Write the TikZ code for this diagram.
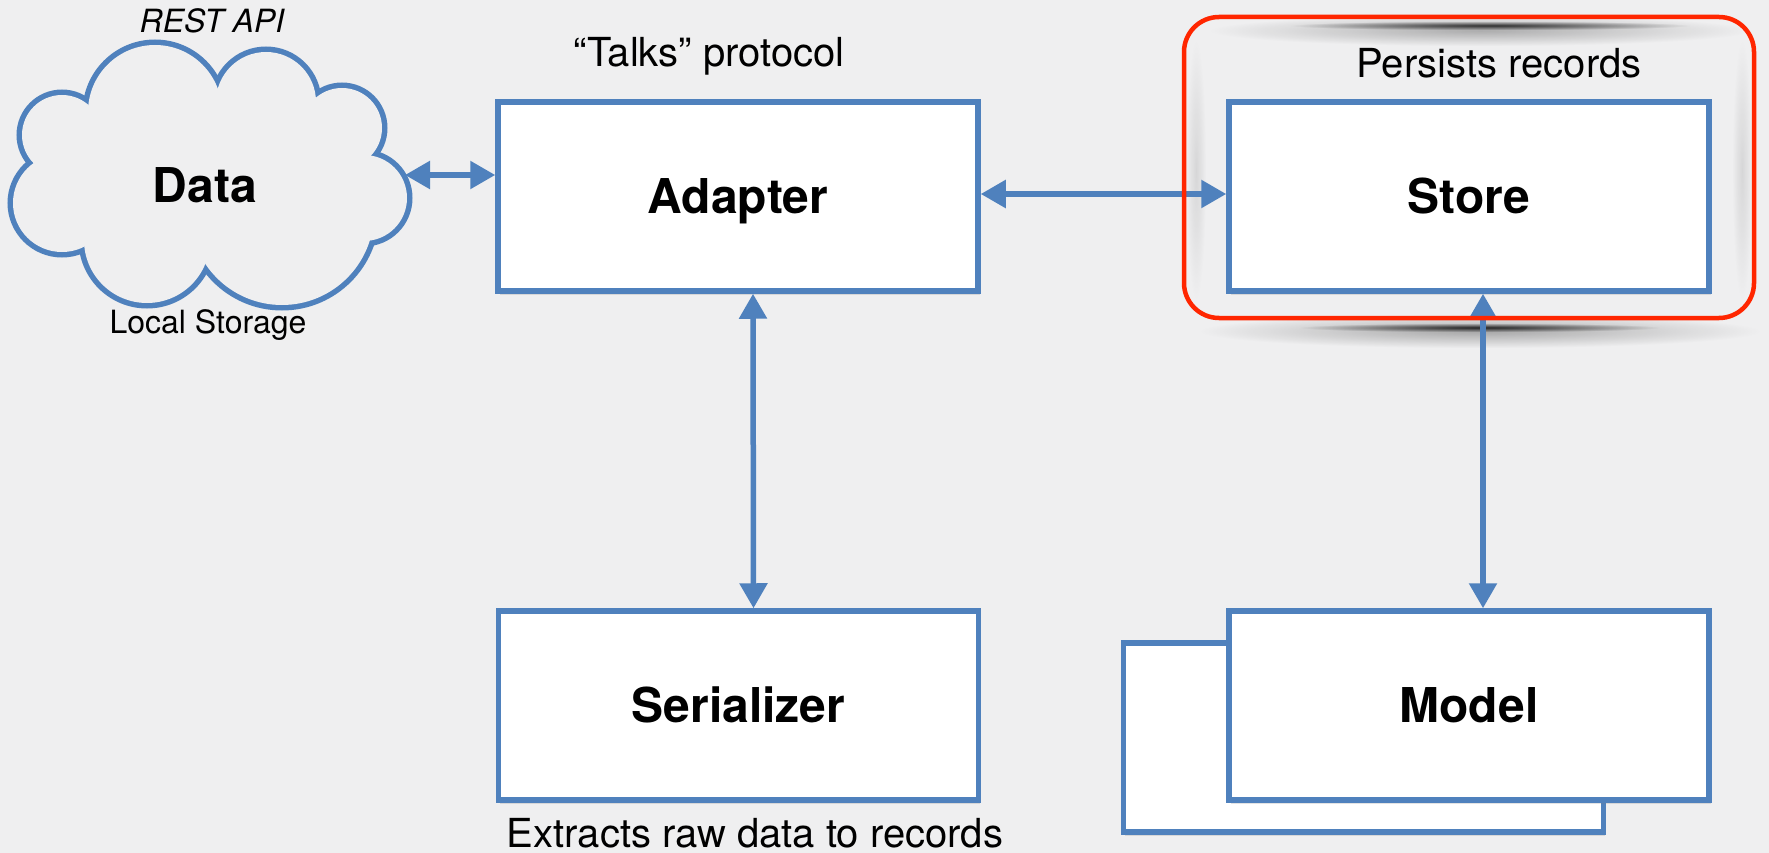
\documentclass[tikz,border=0pt]{standalone}
\usepackage{fontspec}
\setmainfont{TeX Gyre Heros}
\usetikzlibrary{arrows.meta,shadows,fadings}
\definecolor{bg}{RGB}{239,239,240}
\definecolor{boxblue}{RGB}{79,129,189}
\definecolor{hlred}{RGB}{255,38,0}
\tikzfading[name=smear, inner color=transparent!0, outer color=transparent!100]
\begin{document}
\begin{tikzpicture}[x=1pt,y=1pt,
  box/.style={draw=boxblue, line width=5.5pt, fill=white, minimum width=480pt, minimum height=189pt,
    inner sep=0pt, font=\fontsize{48}{50}\selectfont\bfseries, text height=34.5pt, text depth=0pt,
    drop shadow={opacity=0.22,shadow xshift=1.5pt,shadow yshift=-3.5pt}},
  link/.style={draw=boxblue, line width=5.5pt, {Triangle[length=25pt,width=27pt]}-{Triangle[length=25pt,width=27pt]}},
  note/.style={font=\fontsize{40}{42}\selectfont, anchor=base, inner sep=0pt},
  small/.style={font=\fontsize{32}{34}\selectfont, anchor=base, inner sep=0pt},
  puffline/.style={draw=boxblue, line width=11pt},
  pufffill/.style={fill=bg}]

\fill[bg] (0,0) rectangle (1769,-853);
\useasboundingbox (0,0) rectangle (1769,-853);

% cloud: union of puffs (outline drawn at double width, inside covered)
\foreach \cx/\cy/\r in {155/112/67, 266/102/50, 342/128/40, 364/198/43, 282/213/92, 147/240/63, 62/203/49, 62/135/40}
  \draw[puffline] (\cx,-\cy) circle[radius=\r];
\foreach \cx/\cy/\r in {155/112/67, 266/102/50, 342/128/40, 364/198/43, 282/213/92, 147/240/63, 62/203/49, 62/135/40}
  \fill[pufffill] (\cx,-\cy) circle[radius=\r];
\fill[pufffill] (155,-112) -- (266,-102) -- (342,-128) -- (364,-198) -- (282,-213) -- (147,-240) -- (62,-203) -- (62,-135) -- cycle;
\node[anchor=base, inner sep=0pt, font=\fontsize{48}{50}\selectfont\bfseries] (data) at (205,-203) {Data};
\node[small, font=\fontsize{32}{34}\selectfont\itshape] (rest) at (212,-33) {REST API};
\node[small] (local) at (208,-333) {Local Storage};
\coordinate (cloudE) at (405,-175);

% red highlight shadows
\fill[black, opacity=0.28, path fading=smear] (1210,-15) rectangle (1750,-46);
\fill[black, opacity=0.75, path fading=smear] (1290,-21) rectangle (1690,-30);
\fill[black, opacity=0.3, path fading=smear] (1200,-314) rectangle (1760,-348);
\fill[black, opacity=0.8, path fading=smear] (1300,-323) rectangle (1660,-332);
\fill[black, opacity=0.1, path fading=smear] (1186,-40) rectangle (1206,-300);
\fill[black, opacity=0.1, path fading=smear] (1732,-40) rectangle (1752,-300);

% boxes
\node[box] (adapter) at (738,-196.5) {Adapter};
\node[box] (store) at (1469,-196.5) {Store};
\node[box] (serializer) at (738.5,-705.5) {Serializer};
\node[box] (modelback) at (1363.5,-737.5) {};
\node[box] (model) at (1469,-705.5) {Model};

% labels
\node[note] (talks) at (709,-67) {“Talks” protocol};
\node[note] (persists) at (1499,-78) {Persists records};
\node[note] (extracts) at (755,-847) {Extracts raw data to records};

% connectors
\draw[link] (cloudE) -- (cloudE -| adapter.west);
\draw[link] ([yshift=2.5pt]adapter.east) -- ([yshift=2.5pt]store.west);
\draw[link] ([xshift=15pt]adapter.south) -- ([xshift=15pt]serializer.north);
\draw[link] ([xshift=14pt]store.south) -- ([xshift=14pt]model.north);

% red highlight
\draw[hlred, line width=4.5pt, rounded corners=35pt] (1184,-17) rectangle (1754,-318);
\end{tikzpicture}
\end{document}
